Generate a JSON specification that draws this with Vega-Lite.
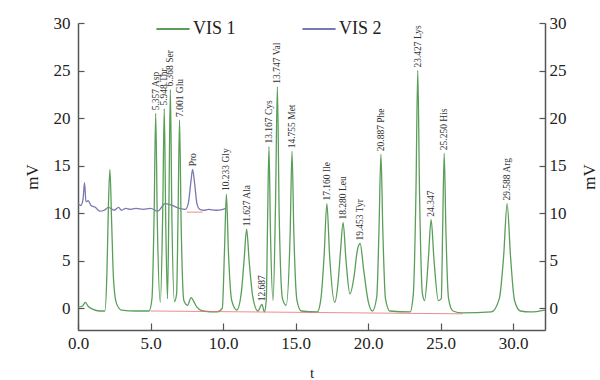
{
  "$schema": "https://vega.github.io/schema/vega-lite/v6.json",
  "width": 467,
  "height": 307,
  "autosize": "none",
  "padding": {"left": 78, "top": 23, "right": 55, "bottom": 50},
  "background": "white",
  "config": {
    "view": {"stroke": null},
    "font": "Liberation Serif",
    "axis": {"grid": false, "domainColor": "#555", "tickColor": "#555", "labelColor": "#222", "titleColor": "#222", "labelFont": "Liberation Serif", "titleFont": "Liberation Serif", "labelFontSize": 17, "titleFontSize": 17, "titleFontWeight": "normal", "domainWidth": 1.5, "tickWidth": 1.2, "labelFlush": false}
  },
  "datasets": {
    "traces": [
      {"series": "VIS 2", "t": 0.0, "v": 11.0}, {"series": "VIS 2", "t": 0.2, "v": 10.8}, {"series": "VIS 2", "t": 0.35, "v": 11.5}, {"series": "VIS 2", "t": 0.45, "v": 13.2}, {"series": "VIS 2", "t": 0.55, "v": 11.2}, {"series": "VIS 2", "t": 0.7, "v": 11.3}, {"series": "VIS 2", "t": 0.9, "v": 10.8}, {"series": "VIS 2", "t": 1.2, "v": 10.6}, {"series": "VIS 2", "t": 1.5, "v": 10.2}, {"series": "VIS 2", "t": 1.8, "v": 10.3}, {"series": "VIS 2", "t": 2.1, "v": 10.6}, {"series": "VIS 2", "t": 2.5, "v": 10.3}, {"series": "VIS 2", "t": 2.8, "v": 10.6}, {"series": "VIS 2", "t": 3.0, "v": 10.3}, {"series": "VIS 2", "t": 3.3, "v": 10.5}, {"series": "VIS 2", "t": 3.6, "v": 10.4}, {"series": "VIS 2", "t": 4.0, "v": 10.5}, {"series": "VIS 2", "t": 4.5, "v": 10.4}, {"series": "VIS 2", "t": 5.0, "v": 10.5}, {"series": "VIS 2", "t": 5.5, "v": 10.2}, {"series": "VIS 2", "t": 6.0, "v": 11.0}, {"series": "VIS 2", "t": 6.5, "v": 10.8}, {"series": "VIS 2", "t": 7.0, "v": 10.5}, {"series": "VIS 2", "t": 7.4, "v": 10.4}, {"series": "VIS 2", "t": 7.6, "v": 11.0}, {"series": "VIS 2", "t": 7.8, "v": 13.5}, {"series": "VIS 2", "t": 7.9, "v": 14.6}, {"series": "VIS 2", "t": 8.05, "v": 13.0}, {"series": "VIS 2", "t": 8.2, "v": 11.0}, {"series": "VIS 2", "t": 8.4, "v": 10.4}, {"series": "VIS 2", "t": 8.7, "v": 10.3}, {"series": "VIS 2", "t": 9.0, "v": 10.4}, {"series": "VIS 2", "t": 9.5, "v": 10.3}, {"series": "VIS 2", "t": 10.0, "v": 10.4}, {"series": "VIS 2", "t": 10.2, "v": 10.5},

      {"series": "VIS 1", "t": 0.0, "v": 0.1}, {"series": "VIS 1", "t": 0.3, "v": 0.2}, {"series": "VIS 1", "t": 0.5, "v": 0.6}, {"series": "VIS 1", "t": 0.7, "v": 0.2}, {"series": "VIS 1", "t": 1.0, "v": -0.1}, {"series": "VIS 1", "t": 1.5, "v": -0.3}, {"series": "VIS 1", "t": 1.85, "v": -0.3}, {"series": "VIS 1", "t": 2.0, "v": 4.0}, {"series": "VIS 1", "t": 2.1, "v": 11.0}, {"series": "VIS 1", "t": 2.2, "v": 14.6}, {"series": "VIS 1", "t": 2.32, "v": 9.0}, {"series": "VIS 1", "t": 2.45, "v": 3.0}, {"series": "VIS 1", "t": 2.65, "v": 0.5}, {"series": "VIS 1", "t": 3.0, "v": -0.2}, {"series": "VIS 1", "t": 4.0, "v": -0.3}, {"series": "VIS 1", "t": 4.9, "v": -0.3},
      {"series": "VIS 1", "t": 5.1, "v": 1.0}, {"series": "VIS 1", "t": 5.25, "v": 10.0}, {"series": "VIS 1", "t": 5.357, "v": 20.5}, {"series": "VIS 1", "t": 5.47, "v": 9.0}, {"series": "VIS 1", "t": 5.68, "v": 0.6}, {"series": "VIS 1", "t": 5.84, "v": 10.0}, {"series": "VIS 1", "t": 5.948, "v": 21.0}, {"series": "VIS 1", "t": 6.05, "v": 9.0}, {"series": "VIS 1", "t": 6.17, "v": 1.0}, {"series": "VIS 1", "t": 6.27, "v": 11.0}, {"series": "VIS 1", "t": 6.368, "v": 23.0}, {"series": "VIS 1", "t": 6.47, "v": 10.0}, {"series": "VIS 1", "t": 6.65, "v": 0.7}, {"series": "VIS 1", "t": 6.8, "v": 1.5}, {"series": "VIS 1", "t": 6.9, "v": 10.0}, {"series": "VIS 1", "t": 7.001, "v": 19.8}, {"series": "VIS 1", "t": 7.11, "v": 9.0}, {"series": "VIS 1", "t": 7.3, "v": 0.8}, {"series": "VIS 1", "t": 7.55, "v": 0.3}, {"series": "VIS 1", "t": 7.8, "v": 1.1}, {"series": "VIS 1", "t": 7.95, "v": 0.8}, {"series": "VIS 1", "t": 8.2, "v": 0.1}, {"series": "VIS 1", "t": 8.6, "v": -0.3}, {"series": "VIS 1", "t": 9.6, "v": -0.4},
      {"series": "VIS 1", "t": 9.95, "v": 0.0}, {"series": "VIS 1", "t": 10.1, "v": 6.0}, {"series": "VIS 1", "t": 10.233, "v": 12.0}, {"series": "VIS 1", "t": 10.37, "v": 6.0}, {"series": "VIS 1", "t": 10.6, "v": 0.8}, {"series": "VIS 1", "t": 10.95, "v": -0.2}, {"series": "VIS 1", "t": 11.25, "v": 1.5}, {"series": "VIS 1", "t": 11.45, "v": 5.0}, {"series": "VIS 1", "t": 11.627, "v": 8.3}, {"series": "VIS 1", "t": 11.8, "v": 5.0}, {"series": "VIS 1", "t": 12.05, "v": 1.2}, {"series": "VIS 1", "t": 12.4, "v": -0.3}, {"series": "VIS 1", "t": 12.687, "v": 0.4}, {"series": "VIS 1", "t": 12.85, "v": -0.4}, {"series": "VIS 1", "t": 12.98, "v": 0.8}, {"series": "VIS 1", "t": 13.07, "v": 9.0}, {"series": "VIS 1", "t": 13.167, "v": 17.0}, {"series": "VIS 1", "t": 13.27, "v": 8.0}, {"series": "VIS 1", "t": 13.45, "v": 0.8}, {"series": "VIS 1", "t": 13.62, "v": 11.0}, {"series": "VIS 1", "t": 13.747, "v": 23.3}, {"series": "VIS 1", "t": 13.87, "v": 10.0}, {"series": "VIS 1", "t": 14.1, "v": 1.0}, {"series": "VIS 1", "t": 14.35, "v": 0.3}, {"series": "VIS 1", "t": 14.63, "v": 8.0}, {"series": "VIS 1", "t": 14.755, "v": 16.5}, {"series": "VIS 1", "t": 14.88, "v": 8.0}, {"series": "VIS 1", "t": 15.1, "v": 0.8}, {"series": "VIS 1", "t": 15.4, "v": -0.3}, {"series": "VIS 1", "t": 16.5, "v": -0.4},
      {"series": "VIS 1", "t": 16.75, "v": 1.0}, {"series": "VIS 1", "t": 16.97, "v": 5.5}, {"series": "VIS 1", "t": 17.16, "v": 11.0}, {"series": "VIS 1", "t": 17.35, "v": 5.5}, {"series": "VIS 1", "t": 17.7, "v": 0.6}, {"series": "VIS 1", "t": 17.95, "v": 3.0}, {"series": "VIS 1", "t": 18.1, "v": 6.0}, {"series": "VIS 1", "t": 18.28, "v": 9.0}, {"series": "VIS 1", "t": 18.48, "v": 5.0}, {"series": "VIS 1", "t": 18.75, "v": 1.5}, {"series": "VIS 1", "t": 19.05, "v": 3.5}, {"series": "VIS 1", "t": 19.25, "v": 6.0}, {"series": "VIS 1", "t": 19.453, "v": 6.8}, {"series": "VIS 1", "t": 19.7, "v": 4.0}, {"series": "VIS 1", "t": 20.0, "v": 0.8}, {"series": "VIS 1", "t": 20.3, "v": -0.3}, {"series": "VIS 1", "t": 20.6, "v": 1.2}, {"series": "VIS 1", "t": 20.75, "v": 8.0}, {"series": "VIS 1", "t": 20.887, "v": 16.2}, {"series": "VIS 1", "t": 21.02, "v": 8.0}, {"series": "VIS 1", "t": 21.2, "v": 1.0}, {"series": "VIS 1", "t": 21.5, "v": -0.3}, {"series": "VIS 1", "t": 22.9, "v": -0.4},
      {"series": "VIS 1", "t": 23.12, "v": 1.5}, {"series": "VIS 1", "t": 23.3, "v": 12.0}, {"series": "VIS 1", "t": 23.427, "v": 25.0}, {"series": "VIS 1", "t": 23.55, "v": 12.0}, {"series": "VIS 1", "t": 23.75, "v": 1.5}, {"series": "VIS 1", "t": 23.9, "v": 0.8}, {"series": "VIS 1", "t": 24.15, "v": 5.0}, {"series": "VIS 1", "t": 24.347, "v": 9.3}, {"series": "VIS 1", "t": 24.55, "v": 5.0}, {"series": "VIS 1", "t": 24.85, "v": 0.8}, {"series": "VIS 1", "t": 25.05, "v": 1.0}, {"series": "VIS 1", "t": 25.14, "v": 8.0}, {"series": "VIS 1", "t": 25.25, "v": 16.3}, {"series": "VIS 1", "t": 25.37, "v": 8.0}, {"series": "VIS 1", "t": 25.55, "v": 1.0}, {"series": "VIS 1", "t": 25.85, "v": -0.3}, {"series": "VIS 1", "t": 26.5, "v": -0.5}, {"series": "VIS 1", "t": 28.5, "v": -0.4},
      {"series": "VIS 1", "t": 29.05, "v": 1.0}, {"series": "VIS 1", "t": 29.35, "v": 5.5}, {"series": "VIS 1", "t": 29.588, "v": 11.0}, {"series": "VIS 1", "t": 29.82, "v": 5.5}, {"series": "VIS 1", "t": 30.1, "v": 0.8}, {"series": "VIS 1", "t": 30.5, "v": -0.3}, {"series": "VIS 1", "t": 31.2, "v": -0.4}, {"series": "VIS 1", "t": 32.2, "v": -0.2}
    ],
    "baseline": [
      {"seg": "a", "t": 5.0, "v": -0.3}, {"seg": "a", "t": 26.5, "v": -0.6},
      {"seg": "b", "t": 7.5, "v": 10.1}, {"seg": "b", "t": 8.6, "v": 10.1}
    ],
    "labels": [
      {"t": 5.357, "v": 20.5, "label": "5.357  Asp"},
      {"t": 5.948, "v": 21.0, "label": "5.948  Thr"},
      {"t": 6.368, "v": 23.0, "label": "6.368  Ser"},
      {"t": 7.001, "v": 19.8, "label": "7.001  Glu"},
      {"t": 7.9, "v": 14.6, "label": "Pro"},
      {"t": 10.233, "v": 12.0, "label": "10.233  Gly"},
      {"t": 11.627, "v": 8.3, "label": "11.627  Ala"},
      {"t": 12.687, "v": 0.4, "label": "12.687"},
      {"t": 13.167, "v": 17.0, "label": "13.167  Cys"},
      {"t": 13.747, "v": 23.3, "label": "13.747  Val"},
      {"t": 14.755, "v": 16.5, "label": "14.755  Met"},
      {"t": 17.16, "v": 11.0, "label": "17.160  Ile"},
      {"t": 18.28, "v": 9.0, "label": "18.280  Leu"},
      {"t": 19.453, "v": 6.8, "label": "19.453  Tyr"},
      {"t": 20.887, "v": 16.2, "label": "20.887  Phe"},
      {"t": 23.427, "v": 25.0, "label": "23.427  Lys"},
      {"t": 24.347, "v": 9.3, "label": "24.347"},
      {"t": 25.25, "v": 16.3, "label": "25.250  His"},
      {"t": 29.588, "v": 11.0, "label": "29.588  Arg"}
    ]
  },
  "layer": [
    {
      "data": {"name": "traces"},
      "transform": [{"filter": "datum.series === 'VIS 2'"}],
      "mark": {"type": "line", "strokeWidth": 1.3, "interpolate": "monotone"},
      "encoding": {
        "x": {"field": "t", "type": "quantitative", "scale": {"domain": [0, 32.2], "nice": false},
          "axis": {"title": "t", "values": [0, 5, 10, 15, 20, 25, 30], "format": ".1f", "tickSize": -7, "labelPadding": 12, "titlePadding": 14, "titleFontSize": 15}},
        "y": {"field": "v", "type": "quantitative", "scale": {"domain": [-2.3, 30], "nice": false, "zero": false},
          "axis": {"orient": "left", "title": "mV", "values": [0, 5, 10, 15, 20, 25, 30], "tickSize": -6, "labelPadding": 14, "titlePadding": 12}},
        "color": {"field": "series", "type": "nominal",
          "scale": {"domain": ["VIS 1", "VIS 2"], "range": ["#5a9e5a", "#7a78b4"]},
          "legend": {"title": null, "orient": "none", "legendX": 77, "legendY": -12, "direction": "horizontal", "symbolType": "stroke", "symbolSize": 1100, "symbolStrokeWidth": 2, "labelFont": "Liberation Serif", "labelFontSize": 18, "labelColor": "#222", "columnPadding": 62, "labelOffset": 2}}
      }
    },
    {
      "data": {"name": "traces"},
      "transform": [{"filter": "datum.series === 'VIS 1'"}],
      "mark": {"type": "line", "strokeWidth": 1.3, "interpolate": "monotone"},
      "encoding": {
        "x": {"field": "t", "type": "quantitative"},
        "y": {"field": "v", "type": "quantitative",
          "axis": {"orient": "right", "title": "mV", "titleAngle": 270, "values": [0, 5, 10, 15, 20, 25, 30], "tickSize": -6, "labelPadding": 10, "titlePadding": 32}},
        "color": {"field": "series", "type": "nominal"}
      }
    },
    {
      "data": {"name": "baseline"},
      "mark": {"type": "line", "color": "#e87070", "strokeWidth": 1, "opacity": 0.8},
      "encoding": {
        "x": {"field": "t", "type": "quantitative"},
        "y": {"field": "v", "type": "quantitative", "axis": null},
        "detail": {"field": "seg"}
      }
    },
    {
      "data": {"name": "labels"},
      "mark": {"type": "text", "angle": 270, "align": "left", "baseline": "middle", "dx": 3, "font": "Liberation Serif", "fontSize": 9.5, "color": "#333"},
      "encoding": {
        "x": {"field": "t", "type": "quantitative"},
        "y": {"field": "v", "type": "quantitative", "axis": null},
        "text": {"field": "label"}
      }
    }
  ],
  "resolve": {"axis": {"y": "independent"}}
}
